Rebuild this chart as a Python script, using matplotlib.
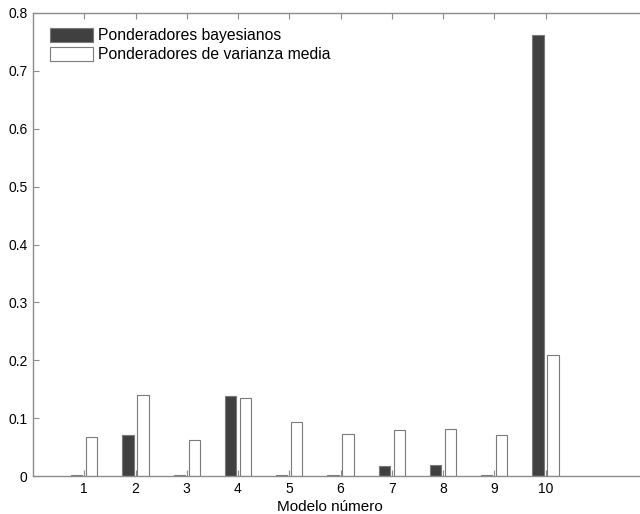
import numpy as np
import matplotlib
matplotlib.use("Agg")
import matplotlib.pyplot as plt

# ── Data ──────────────────────────────────────────────────────────────────────
modelos = [1, 2, 3, 4, 5, 6, 7, 8, 9, 10]
bayesianos = [0.002, 0.070, 0.002, 0.138, 0.002, 0.002, 0.017, 0.019, 0.002, 0.762]
varianza_media = [0.068, 0.140, 0.062, 0.135, 0.093, 0.072, 0.079, 0.082, 0.070, 0.209]

plt.rcParams.update({
    "font.family": ["Liberation Sans", "DejaVu Sans"],
    "font.size": 10,
})

AX_COLOR = "#8c8c8c"

fig = plt.figure(figsize=(6.40, 5.14), dpi=100)
# right edge runs past the figure, like the original (axis ends at x=12)
ax = fig.add_axes([33 / 640, 38 / 514, 615 / 640, 463 / 514])

x = np.array(modelos)
w = 0.22
off = 0.145
ax.bar(x - off, bayesianos, width=w, color="#404040", edgecolor="#7a7a7a",
       linewidth=0.8, label="Ponderadores bayesianos", zorder=2)
ax.bar(x + off, varianza_media, width=w, color="white", edgecolor="#7a7a7a",
       linewidth=0.8, label="Ponderadores de varianza media", zorder=2)

ax.set_xlim(0, 12)
ax.set_ylim(0, 0.8)
ax.set_xticks(modelos)
ax.set_yticks(np.arange(0, 0.81, 0.1))
ax.set_yticklabels(["0"] + [f"{v:.1f}" for v in np.arange(0.1, 0.81, 0.1)])
ax.tick_params(direction="in", length=4, width=0.8, color=AX_COLOR,
               top=True, right=False, labelsize=10, pad=4)
for s in ax.spines.values():
    s.set_color(AX_COLOR)
    s.set_linewidth(1.0)

ax.set_xlabel("Modelo número", fontsize=11)
ax.xaxis.set_label_coords(0.483, -0.052)

leg = ax.legend(loc="upper left", frameon=False, fontsize=11.3,
                handlelength=2.7, handleheight=0.95, handletextpad=0.33,
                labelspacing=0.26, borderaxespad=0.0, borderpad=0.4,
                bbox_to_anchor=(0.018, 0.981))

fig.savefig("out.png", dpi=100)
